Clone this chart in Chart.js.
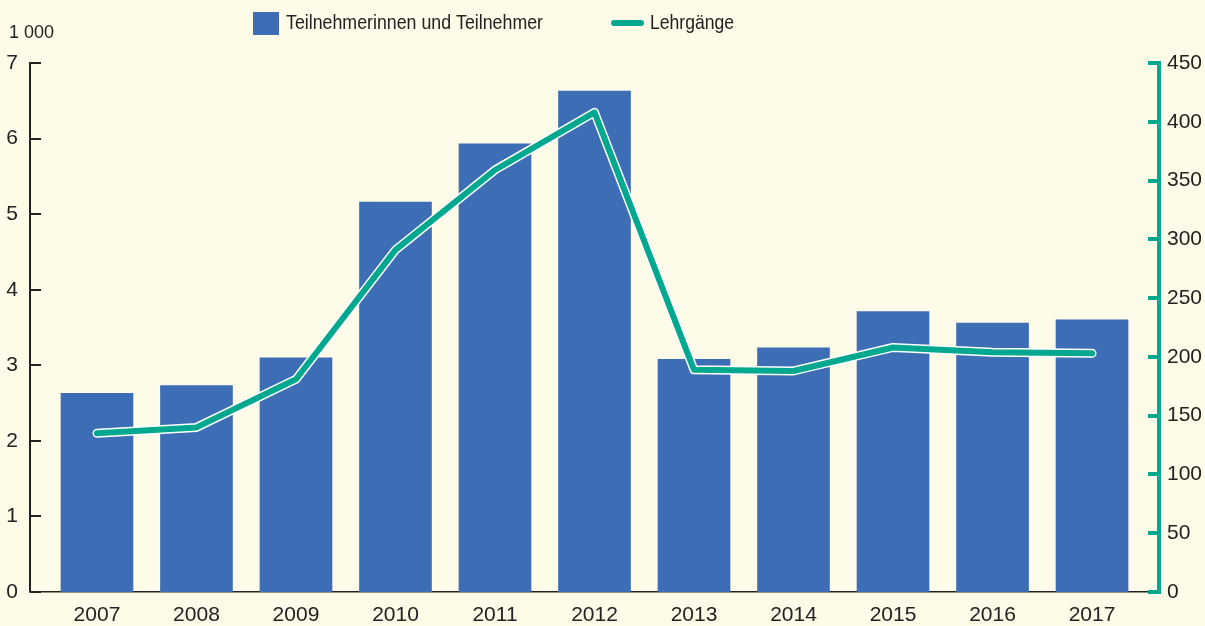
<!DOCTYPE html>
<html><head><meta charset="utf-8">
<script src="https://cdn.jsdelivr.net/npm/chart.js@4"></script>
<style>html,body{margin:0;padding:0;background:#FEFBE9;}#w{width:1205px;height:626px;}</style>
</head><body><div id="w"><canvas id="c" width="1205" height="626"></canvas></div>
<script>
const years = ["2007","2008","2009","2010","2011","2012","2013","2014","2015","2016","2017"];
const participants = [2.63, 2.73, 3.10, 5.16, 5.93, 6.63, 3.08, 3.23, 3.71, 3.56, 3.60];
const courses = [135, 140, 181, 291, 359, 408, 189, 188, 208, 204, 203];
const leftTicks = [0,1,2,3,4,5,6,7];
const rightTicks = [0,50,100,150,200,250,300,350,400,450];
const unitLabel = "1 000";
const seriesNames = ["Teilnehmerinnen und Teilnehmer", "Lehrgänge"];

const BLUE = "#3D6EB5", TEAL = "#00A88F", INK = "#222222", BG = "#FEFBE9";
const FONT = "'Liberation Sans', Arial, sans-serif";

function narrowText(ctx, text, x, y, width) {
  const w = ctx.measureText(text).width;
  ctx.save();
  ctx.translate(x, y);
  ctx.scale(width / w, 1);
  ctx.fillText(text, 0, 0);
  ctx.restore();
}

const bgPlugin = {
  id: 'bg',
  beforeDraw(chart) {
    const ctx = chart.ctx;
    ctx.save(); ctx.fillStyle = BG; ctx.fillRect(0,0,chart.width,chart.height); ctx.restore();
  },
  afterDraw(chart) {
    const ctx = chart.ctx, a = chart.chartArea;
    const y = chart.scales.y, y2 = chart.scales.y2;
    ctx.save();
    ctx.strokeStyle = INK; ctx.lineWidth = 2;
    leftTicks.forEach(v => { const py = Math.round(y.getPixelForValue(v)); ctx.beginPath(); ctx.moveTo(a.left, py); ctx.lineTo(a.left + 11, py); ctx.stroke(); });
    ctx.beginPath(); ctx.moveTo(a.left, a.top - 1); ctx.lineTo(a.left, a.bottom); ctx.stroke();
    ctx.strokeStyle = TEAL; ctx.lineWidth = 4;
    rightTicks.forEach(v => { const py = Math.round(y2.getPixelForValue(v)); ctx.beginPath(); ctx.moveTo(a.right - 11, py); ctx.lineTo(a.right, py); ctx.stroke(); });
    ctx.beginPath(); ctx.moveTo(a.right, a.top - 2); ctx.lineTo(a.right, a.bottom + 2); ctx.stroke();
    ctx.fillStyle = INK; ctx.font = "18px " + FONT; ctx.textBaseline = 'middle'; ctx.textAlign = 'left';
    ctx.fillText(unitLabel, 9, 33);
    ctx.fillStyle = BLUE; ctx.fillRect(253, 12, 26, 23);
    ctx.fillStyle = INK; ctx.font = "21px " + FONT;
    narrowText(ctx, seriesNames[0], 286, 23, 257);
    ctx.strokeStyle = TEAL; ctx.lineWidth = 6; ctx.lineCap = 'round';
    ctx.beginPath(); ctx.moveTo(614, 23); ctx.lineTo(641, 23); ctx.stroke();
    ctx.fillStyle = INK;
    narrowText(ctx, seriesNames[1], 650, 23, 84);
    ctx.restore();
  }
};

const pts = arr => arr.map((v,i) => ({x:i, y:v}));

new Chart(document.getElementById('c'), {
  data: {
    datasets: [
      { type:'line', label: seriesNames[1], data: pts(courses), yAxisID:'y2', borderColor: TEAL, borderWidth: 6, pointRadius: 0, borderJoinStyle:'round', borderCapStyle:'round', order: 0 },
      { type:'line', label: 'outline', data: pts(courses), yAxisID:'y2', borderColor: '#FFFFFF', borderWidth: 9, pointRadius: 0, borderJoinStyle:'round', borderCapStyle:'round', order: 1 },
      { type:'bar', label: seriesNames[0], data: pts(participants), yAxisID:'y', backgroundColor: BLUE, barThickness: 72, order: 2 }
    ]
  },
  options: {
    responsive: false, animation: false, devicePixelRatio: 1,
    layout: { padding: { top: 63, left: 0, right: 0, bottom: 0 } },
    plugins: { legend: { display: false }, tooltip: { enabled: false } },
    scales: {
      x: {
        type: 'linear', min: -0.673, max: 10.673, offset: false, bounds: 'ticks',
        afterBuildTicks(s) { s.ticks = years.map((_, i) => ({ value: i })); },
        ticks: { callback: v => years[v], color: INK, font: { size: 21, family: FONT }, padding: 11, autoSkip: false, maxRotation: 0 },
        grid: { display: false, drawTicks: false, offset: false },
        border: { display: true, color: INK, width: 1.5 },
        afterFit(s) { s.height = 34; }
      },
      y: {
        position: 'left', min: 0, max: 7,
        afterBuildTicks(s) { s.ticks = leftTicks.map(v => ({ value: v })); },
        ticks: { color: INK, font: { size: 21, family: FONT }, padding: 12 },
        grid: { display: false, drawTicks: false },
        border: { display: false },
        afterFit(s) { s.width = 30; }
      },
      y2: {
        position: 'right', min: 0, max: 450,
        afterBuildTicks(s) { s.ticks = rightTicks.map(v => ({ value: v })); },
        ticks: { color: INK, font: { size: 21, family: FONT }, padding: 8 },
        grid: { display: false, drawTicks: false },
        border: { display: false },
        afterFit(s) { s.width = 46; }
      }
    }
  },
  plugins: [bgPlugin]
});
</script>
</body></html>
